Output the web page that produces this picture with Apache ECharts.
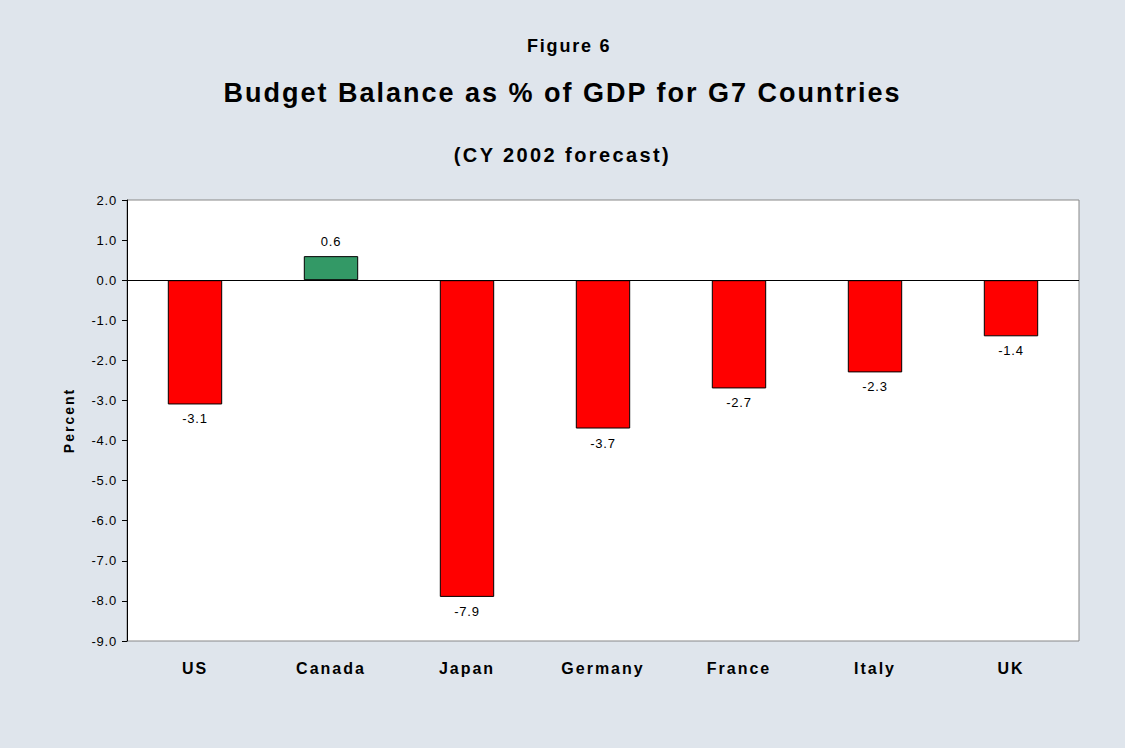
<!DOCTYPE html>
<html>
<head>
<meta charset="utf-8">
<script src="https://cdn.jsdelivr.net/npm/echarts@6/dist/echarts.min.js"></script>
<style>
  html, body { margin: 0; padding: 0; background: #dfe5ec; }
  #chart { width: 1125px; height: 748px; }
</style>
</head>
<body>
<div id="chart"></div>
<script>
// G7 budget balances, CY 2002 forecast (% of GDP)
const countries = ['US', 'Canada', 'Japan', 'Germany', 'France', 'Italy', 'UK'];
const balances = [-3.1, 0.6, -7.9, -3.7, -2.7, -2.3, -1.4];
const yTicks = { min: -9, max: 2, interval: 1 };

const surplusColor = '#339966';
const deficitColor = '#ff0000';
const font = 'Liberation Sans';

const chart = echarts.init(document.getElementById('chart'), null, { renderer: 'svg' });

chart.setOption({
  backgroundColor: '#dfe5ec',
  animation: false,
  title: [
    { text: 'Figure 6', left: 522, top: 32,
      textStyle: { fontFamily: font, fontWeight: 'bold', fontSize: 18, color: '#000' } },
    { text: 'Budget Balance as % of GDP for G7 Countries', left: 'center', top: 74,
      textStyle: { fontFamily: font, fontWeight: 'bold', fontSize: 27, color: '#000' } },
    { text: '(CY 2002 forecast)', left: 'center', top: 140,
      textStyle: { fontFamily: font, fontWeight: 'bold', fontSize: 20, color: '#000' } }
  ],
  grid: {
    left: 127, right: 46, top: 200, bottom: 107,
    show: true, backgroundColor: '#ffffff', borderColor: '#888888', borderWidth: 1
  },
  xAxis: {
    type: 'category',
    data: countries,
    position: 'bottom',
    axisLine: { show: false },
    axisTick: { show: false },
    axisLabel: {
      fontFamily: font, fontWeight: 'bold', fontSize: 16, color: '#000',
      margin: 19
    }
  },
  yAxis: {
    type: 'value',
    min: yTicks.min, max: yTicks.max, interval: yTicks.interval,
    name: 'Percent',
    nameLocation: 'middle',
    nameGap: 51,
    nameTextStyle: { fontFamily: font, fontWeight: 'bold', fontSize: 14, color: '#000' },
    axisLine: { show: true, onZero: false, lineStyle: { color: '#000', width: 1 } },
    axisTick: { show: true, length: 5, inside: false, lineStyle: { color: '#000' } },
    splitLine: { show: false },
    axisLabel: {
      fontFamily: font, fontSize: 13, color: '#000', margin: 10,
      formatter: v => v.toFixed(1)
    }
  },
  series: [{
    type: 'bar',
    data: balances.map(v => ({
      value: v,
      itemStyle: { color: v >= 0 ? surplusColor : deficitColor },
      label: { position: v >= 0 ? 'top' : 'bottom' }
    })),
    barWidth: '40%',
    itemStyle: { borderColor: '#000', borderWidth: 1 },
    label: {
      show: true, distance: 8,
      fontFamily: font, fontSize: 13, color: '#000',
      formatter: p => p.value.toFixed(1)
    },
    markLine: {
      silent: true, symbol: 'none', label: { show: false },
      lineStyle: { color: '#000', width: 1, type: 'solid' },
      data: [{ yAxis: 0 }]
    }
  }]
});

// Open up the tracking of the rendered text: bold headings and labels get wider spacing
function spaceText() {
  document.querySelectorAll('#chart text').forEach(el => {
    const bold = parseInt(getComputedStyle(el).fontWeight, 10) >= 600;
    const txt = el.textContent;
    let ls = bold ? 2 : 0.8;
    if (txt === '(CY 2002 forecast)') ls = 2.4;
    if (txt === 'Figure 6') ls = 1.8;
    el.setAttribute('letter-spacing', ls);
    el.style.letterSpacing = ls + 'px';
  });
}
spaceText();
chart.on('finished', spaceText);
</script>
</body>
</html>
